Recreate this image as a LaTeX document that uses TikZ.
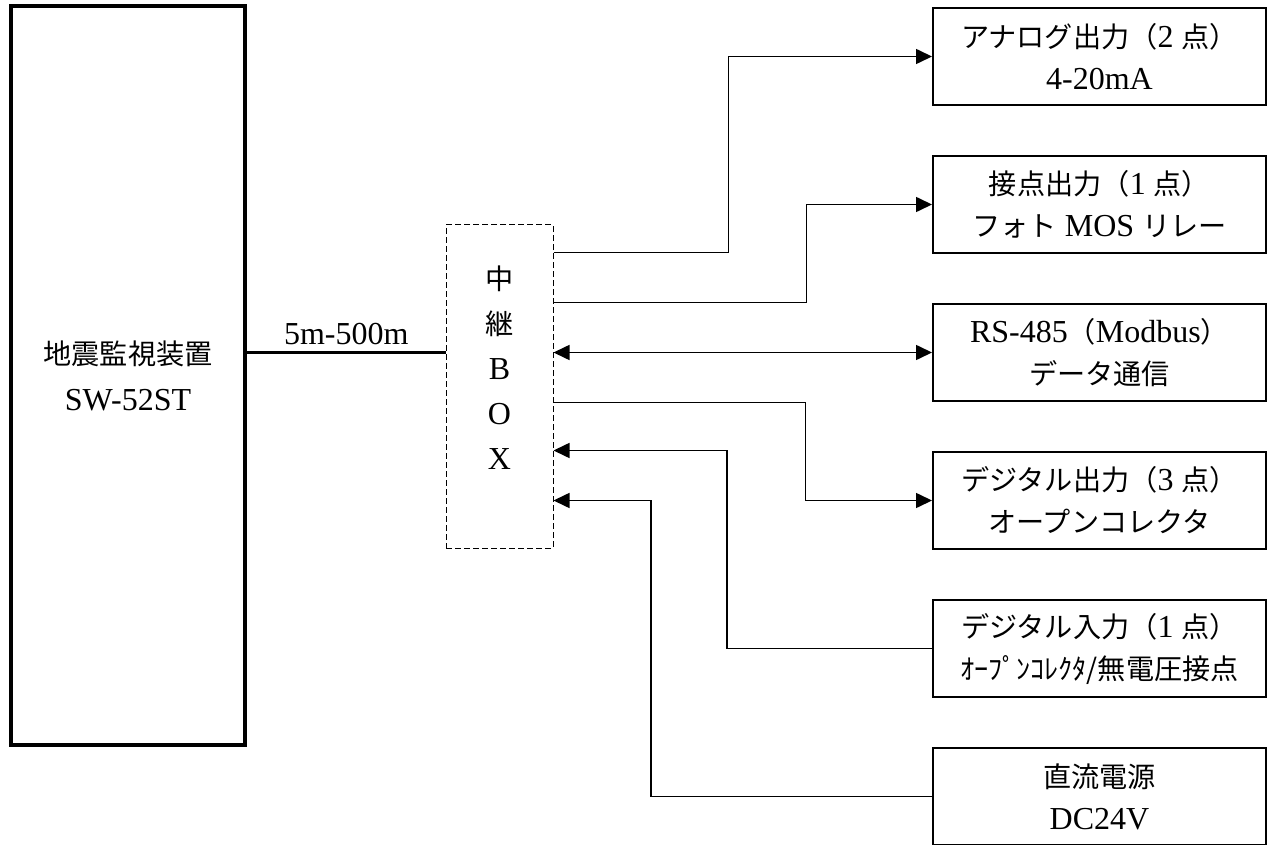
\documentclass[tikz,border=0pt]{standalone}
\usepackage{fontspec}
\setmainfont{Liberation Serif}
\newfontfamily\jp[Scale=0.88]{Noto Sans CJK JP}
\usepackage{tikz}
\usetikzlibrary{positioning,calc,arrows.meta}

\begin{document}
\begin{tikzpicture}[x=1pt,y=-1pt,
    font=\fontsize{32}{42}\selectfont,
    blk/.style={draw,line width=2pt,minimum width=333pt,minimum height=97pt,align=center,inner sep=0pt},
    link/.style={line width=1.6pt},
    arr/.style={link,-{Triangle[length=16pt,width=15pt]}},
    node distance=49pt]
    \useasboundingbox (0,0) rectangle (1274,845);
    \node (mon) [draw,line width=4pt,minimum width=234pt,minimum height=739pt,align=center] at (128,375.5) {{\jp 地震監視装置}\\[4pt]SW-52ST};
    \node (box) [draw,line width=1pt,dash pattern=on 6pt off 3pt,minimum width=107pt,minimum height=323pt,align=center,
        font=\fontsize{32}{45}\selectfont,text depth=37pt] at (499.5,386.5) {{\jp 中}\\{\jp 継}\\B\\O\\X};
    \node (ao) [blk] at (1099.5,56.5) {{\jp アナログ出力（}2 {\jp 点）}\\4-20mA};
    \node (co) [blk,below=of ao] {{\jp 接点出力（}1 {\jp 点）}\\{\jp フォト} MOS {\jp リレー}};
    \node (rs) [blk,below=of co] {RS-485{\jp （}Modbus{\jp ）}\\{\jp データ通信}};
    \node (do) [blk,below=of rs] {{\jp デジタル出力（}3 {\jp 点）}\\{\jp オープンコレクタ}};
    \node (di) [blk,below=of do] {{\jp デジタル入力（}1 {\jp 点）}\\{\jp ｵｰﾌﾟﾝｺﾚｸﾀ/無電圧接点}};
    \node (pw) [blk,below=of di] {{\jp 直流電源}\\DC24V};
    \draw [line width=3pt] (mon.east |- rs) -- node [above=3pt] {5m-500m} (box.west |- rs);
    \draw [arr] ($(box.east |- rs)+(0,-100)$) -- ++(175,0) |- (ao.west);
    \draw [arr] ($(box.east |- rs)+(0,-50)$) -- ++(253,0) |- (co.west);
    \draw [link,{Triangle[length=16pt,width=15pt]}-{Triangle[length=16pt,width=15pt]}] (box.east |- rs) -- (rs.west);
    \draw [arr] ($(box.east |- rs)+(0,50)$) -- ++(252,0) |- (do.west);
    \draw [arr] (di.west) -- ++(-205,0) |- ($(box.east |- rs)+(0,98)$);
    \draw [arr] (pw.west) -- ++(-281,0) |- ($(box.east |- rs)+(0,148)$);
\end{tikzpicture}
\end{document}
